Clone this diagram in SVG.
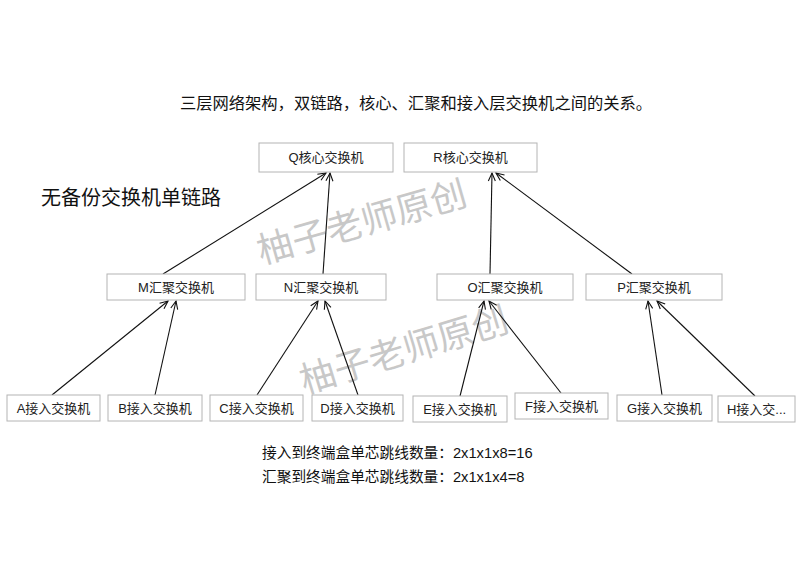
<svg xmlns="http://www.w3.org/2000/svg" width="800" height="566" viewBox="0 0 800 566">
<defs>
<marker id="arr" viewBox="-10 -6 12 12" refX="0" refY="0" markerWidth="12" markerHeight="12" markerUnits="userSpaceOnUse" orient="auto">
<path d="M-8,-3.5 L0,0 L-8,3.5" fill="none" stroke="#111" stroke-width="1.1"/>
</marker>
</defs>
<style>
.box{fill:#fff;stroke:#b4b4b4;stroke-width:1}
.lbl{font-family:"Liberation Sans","Noto Sans CJK SC",sans-serif;font-size:13px;fill:#222;text-anchor:middle}
.txt{font-family:"Liberation Sans","Noto Sans CJK SC",sans-serif;fill:#111}
.wm{font-family:"Noto Sans CJK SC",sans-serif;font-size:36px;fill:#c8c8c8;text-anchor:middle;dominant-baseline:central}
.con line{stroke:#111;stroke-width:1.1;marker-end:url(#arr)}
</style>
<rect width="800" height="566" fill="#fff"/>
<text class="txt" x="416" y="109" font-size="16.3" text-anchor="middle">三层网络架构，双链路，核心、汇聚和接入层交换机之间的关系。</text>
<text class="txt" x="41" y="205" font-size="20">无备份交换机单链路</text>
<text class="wm" x="361" y="219" transform="rotate(-16 361 219)">柚子老师原创</text>
<text class="wm" x="403" y="347" transform="rotate(-17 403 347)">柚子老师原创</text>
<g id="connectors" class="con">
<line x1="163" y1="274" x2="326" y2="173"/>
<line x1="323" y1="274" x2="330" y2="173"/>
<line x1="490" y1="274" x2="492" y2="173"/>
<line x1="632" y1="274" x2="496" y2="173"/>
<line x1="52" y1="395" x2="168" y2="301"/>
<line x1="155" y1="395" x2="176" y2="301"/>
<line x1="257" y1="395" x2="318" y2="301"/>
<line x1="358" y1="395" x2="325" y2="301"/>
<line x1="460" y1="396" x2="484" y2="301"/>
<line x1="561" y1="393" x2="489" y2="301"/>
<line x1="662" y1="395" x2="648" y2="301"/>
<line x1="755" y1="396" x2="657" y2="301"/>
</g>
<g id="Q"><rect class="box" x="259" y="143" width="134" height="29"/><text class="lbl" x="326" y="162">Q核心交换机</text></g>
<g id="R"><rect class="box" x="404" y="143" width="133" height="29"/><text class="lbl" x="470.5" y="162">R核心交换机</text></g>
<g id="M"><rect class="box" x="107" y="274" width="138" height="26"/><text class="lbl" x="176" y="291.5">M汇聚交换机</text></g>
<g id="N"><rect class="box" x="256" y="274" width="130" height="26"/><text class="lbl" x="321" y="291.5">N汇聚交换机</text></g>
<g id="O"><rect class="box" x="437" y="274" width="136" height="26"/><text class="lbl" x="505" y="291.5">O汇聚交换机</text></g>
<g id="P"><rect class="box" x="586" y="274" width="136" height="26"/><text class="lbl" x="654" y="291.5">P汇聚交换机</text></g>
<g id="A"><rect class="box" x="7" y="395" width="93" height="26"/><text class="lbl" x="53.5" y="412.5">A接入交换机</text></g>
<g id="B"><rect class="box" x="108" y="395" width="94" height="26"/><text class="lbl" x="155" y="412.5">B接入交换机</text></g>
<g id="C"><rect class="box" x="210" y="395" width="93" height="26"/><text class="lbl" x="256.5" y="412.5">C接入交换机</text></g>
<g id="D"><rect class="box" x="312" y="395" width="91" height="26"/><text class="lbl" x="357.5" y="412.5">D接入交换机</text></g>
<g id="E"><rect class="box" x="413" y="396" width="94" height="26"/><text class="lbl" x="460" y="413.5">E接入交换机</text></g>
<g id="F"><rect class="box" x="515" y="393" width="93" height="26"/><text class="lbl" x="561.5" y="410.5">F接入交换机</text></g>
<g id="G"><rect class="box" x="617" y="395" width="95" height="26"/><text class="lbl" x="664.5" y="412.5">G接入交换机</text></g>
<g id="H"><rect class="box" x="718" y="396" width="77" height="26"/><text class="lbl" x="756.5" y="413.5">H接入交...</text></g>
<text class="txt" x="262" y="458" font-size="14.7">接入到终端盒单芯跳线数量：2x1x1x8=16</text>
<text class="txt" x="262" y="482" font-size="14.7">汇聚到终端盒单芯跳线数量：2x1x1x4=8</text>
</svg>
